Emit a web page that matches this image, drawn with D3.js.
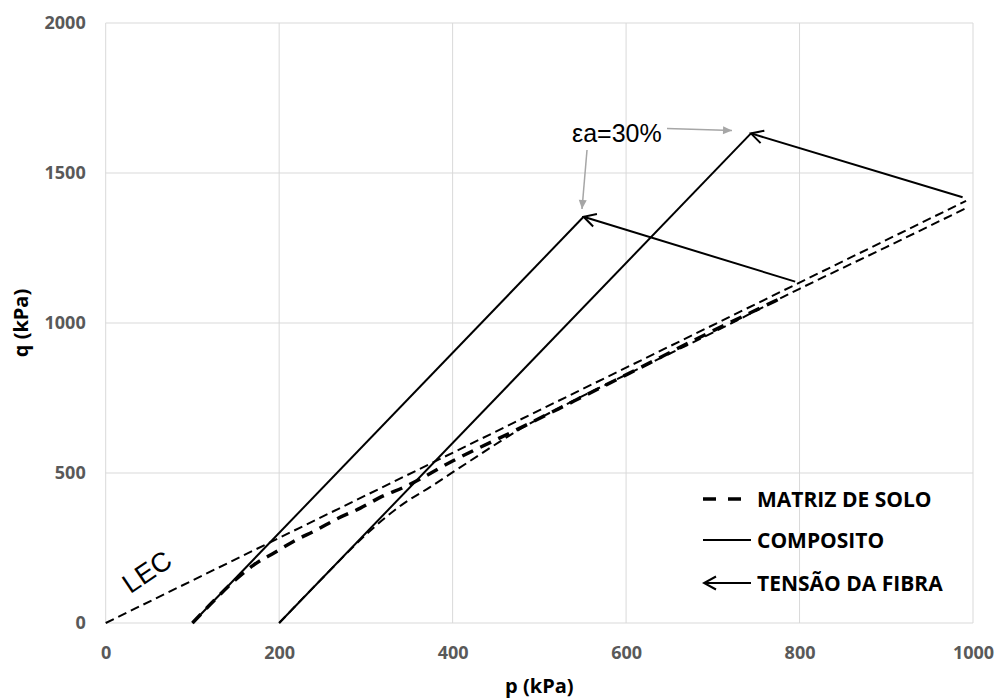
<!DOCTYPE html>
<html>
<head>
<meta charset="utf-8">
<script src="https://cdn.jsdelivr.net/npm/d3@7"></script>
<style>
  html, body { margin: 0; padding: 0; background: #fff; }
  svg { display: block; }
</style>
</head>
<body>
<div id="chart"></div>
<script>
// ---------- DATA ----------
const xTicks = [0, 200, 400, 600, 800, 1000];
const yTicks = [0, 500, 1000, 1500, 2000];

// LEC (critical state line), thin dashed
const lecP = [0, 992];
const lecQ = [0, 1407];

// Soil matrix, p0 = 100 kPa (thick dashed)
const matrix1P = [100, 125, 150, 170, 195, 216, 243, 268, 293, 318, 345, 400, 473, 540, 604, 680, 762, 775];
const matrix1Q = [0, 75, 145, 192, 235, 271, 310, 349, 382, 421, 454, 540, 643, 740, 833, 945, 1060, 1078];

// Soil matrix, p0 = 200 kPa (thin dashed)
const matrix2P = [200, 250, 304, 341, 374, 420, 480, 540, 604, 700, 800, 900, 992];
const matrix2Q = [0, 150, 305, 393, 453, 540, 650, 742, 833, 968, 1114, 1253, 1383];

// Composite stress paths (solid)
const comp1P = [100, 551];
const comp1Q = [0, 1354];
const comp2P = [200, 744];
const comp2Q = [0, 1632];

// Fibre tension arrows (start -> end)
const fibre1P = [795, 551];
const fibre1Q = [1138, 1354];
const fibre2P = [988, 744];
const fibre2Q = [1419, 1632];

const legendLabels = ["MATRIZ DE SOLO", "COMPOSITO", "TENSÃO DA FIBRA"];

// ---------- LAYOUT ----------
const W = 997, H = 700;
const svg = d3.select("#chart").append("svg").attr("width", W).attr("height", H);

const x = d3.scaleLinear().domain([0, 1000]).range([105.7, 973]);
const y = d3.scaleLinear().domain([0, 2000]).range([623, 23]);

const zip = (a, b) => a.map((v, i) => [v, b[i]]);

// defs
const defs = svg.append("defs");
defs.append("marker")
  .attr("id", "openArrow")
  .attr("markerUnits", "userSpaceOnUse")
  .attr("viewBox", "-14 -8 16 16")
  .attr("refX", 0).attr("refY", 0)
  .attr("markerWidth", 16).attr("markerHeight", 16)
  .attr("orient", "auto")
  .append("path")
  .attr("d", "M-12,-6.5 L0,0 L-12,6.5")
  .attr("fill", "none").attr("stroke", "#000").attr("stroke-width", 2);

defs.append("marker")
  .attr("id", "grayArrow")
  .attr("markerUnits", "userSpaceOnUse")
  .attr("viewBox", "-10 -5 10 10")
  .attr("refX", 0).attr("refY", 0)
  .attr("markerWidth", 10).attr("markerHeight", 10)
  .attr("orient", "auto")
  .append("path")
  .attr("d", "M-9,-4 L0,0 L-9,4 Z")
  .attr("fill", "#a6a6a6");

// grid
const grid = svg.append("g");
grid.selectAll("line.v").data(xTicks).enter().append("line")
  .attr("x1", d => x(d)).attr("x2", d => x(d))
  .attr("y1", y(0)).attr("y2", y(2000))
  .attr("stroke", "#d9d9d9").attr("stroke-width", 1);
grid.selectAll("line.h").data(yTicks).enter().append("line")
  .attr("y1", d => y(d)).attr("y2", d => y(d))
  .attr("x1", x(0)).attr("x2", x(1000))
  .attr("stroke", "#d9d9d9").attr("stroke-width", 1);

// axes (labels only, via d3 axes)
const tickFont = "'Open Sans', 'Liberation Sans', sans-serif";
const fmt = d3.format("d");
const xAxis = svg.append("g").attr("transform", `translate(0,${y(0)})`)
  .call(d3.axisBottom(x).tickValues(xTicks).tickFormat(fmt).tickSize(0).tickPadding(23));
const yAxis = svg.append("g").attr("transform", `translate(${x(0)},0)`)
  .call(d3.axisLeft(y).tickValues(yTicks).tickFormat(fmt).tickSize(0).tickPadding(20));
[xAxis, yAxis].forEach(a => {
  a.select(".domain").remove();
  a.selectAll("text")
    .attr("font-family", tickFont).attr("font-weight", 700)
    .attr("font-size", 18).attr("fill", "#595959");
});

// axis titles
svg.append("text").attr("x", (x(0) + x(1000)) / 2).attr("y", 693)
  .attr("text-anchor", "middle")
  .attr("font-family", tickFont).attr("font-weight", 700).attr("font-size", 20)
  .attr("fill", "#000").text("p (kPa)");
svg.append("text").attr("transform", `translate(28,${(y(0) + y(2000)) / 2}) rotate(-90)`)
  .attr("text-anchor", "middle")
  .attr("font-family", tickFont).attr("font-weight", 700).attr("font-size", 20)
  .attr("fill", "#000").text("q (kPa)");

const line = d3.line().x(d => x(d[0])).y(d => y(d[1]));
const curve = d3.line().x(d => x(d[0])).y(d => y(d[1])).curve(d3.curveMonotoneX);

const plot = svg.append("g");

// LEC
plot.append("path").datum(zip(lecP, lecQ)).attr("d", line)
  .attr("fill", "none").attr("stroke", "#000").attr("stroke-width", 2)
  .attr("stroke-dasharray", "9,5");

// matrix p0=200 thin dashed
plot.append("path").datum(zip(matrix2P, matrix2Q)).attr("d", curve)
  .attr("fill", "none").attr("stroke", "#000").attr("stroke-width", 2)
  .attr("stroke-dasharray", "9,5");

// composites
plot.append("path").datum(zip(comp1P, comp1Q)).attr("d", line)
  .attr("fill", "none").attr("stroke", "#000").attr("stroke-width", 2);
plot.append("path").datum(zip(comp2P, comp2Q)).attr("d", line)
  .attr("fill", "none").attr("stroke", "#000").attr("stroke-width", 2);

// matrix p0=100 thick dashed
plot.append("path").datum(zip(matrix1P, matrix1Q)).attr("d", curve)
  .attr("fill", "none").attr("stroke", "#000").attr("stroke-width", 3.5)
  .attr("stroke-dasharray", "12,8");

// fibre tension arrows
[[fibre1P, fibre1Q], [fibre2P, fibre2Q]].forEach(([P, Q]) => {
  plot.append("path").datum(zip(P, Q)).attr("d", line)
    .attr("fill", "none").attr("stroke", "#000").attr("stroke-width", 2)
    .attr("marker-end", "url(#openArrow)");
});

// LEC label
svg.append("text")
  .attr("transform", `translate(147,572) rotate(-34)`)
  .attr("text-anchor", "middle").attr("dominant-baseline", "central")
  .attr("font-family", "'Liberation Sans', Arial, sans-serif").attr("font-size", 27)
  .attr("fill", "#000").text("LEC");

// εa=30% annotation
svg.append("text").attr("x", 572).attr("y", 142)
  .attr("font-family", "'Liberation Sans', Arial, sans-serif").attr("font-size", 25)
  .attr("fill", "#000").text("εa=30%");
svg.append("line").attr("x1", 667).attr("y1", 128.5).attr("x2", 732).attr("y2", 130.5)
  .attr("stroke", "#a6a6a6").attr("stroke-width", 1.5).attr("marker-end", "url(#grayArrow)");
svg.append("line").attr("x1", 587).attr("y1", 150).attr("x2", 582).attr("y2", 209)
  .attr("stroke", "#a6a6a6").attr("stroke-width", 1.5).attr("marker-end", "url(#grayArrow)");

// legend
const lg = svg.append("g");
const lgX0 = 703, lgX1 = 751, lgText = 757;
const rowsY = [499, 540, 583];
lg.append("line").attr("x1", lgX0).attr("x2", 742).attr("y1", rowsY[0]).attr("y2", rowsY[0])
  .attr("stroke", "#000").attr("stroke-width", 3.5).attr("stroke-dasharray", "13,12");
lg.append("line").attr("x1", lgX0).attr("x2", lgX1).attr("y1", rowsY[1]).attr("y2", rowsY[1])
  .attr("stroke", "#000").attr("stroke-width", 2);
lg.append("line").attr("x1", lgX1).attr("x2", lgX0 + 1).attr("y1", rowsY[2]).attr("y2", rowsY[2])
  .attr("stroke", "#000").attr("stroke-width", 2).attr("marker-end", "url(#openArrow)");
lg.selectAll("text.lbl").data(legendLabels).enter().append("text")
  .attr("x", lgText).attr("y", (d, i) => rowsY[i])
  .attr("dominant-baseline", "central")
  .attr("font-family", tickFont).attr("font-weight", 700).attr("font-size", 21)
  .attr("fill", "#000").text(d => d);
</script>
</body>
</html>
